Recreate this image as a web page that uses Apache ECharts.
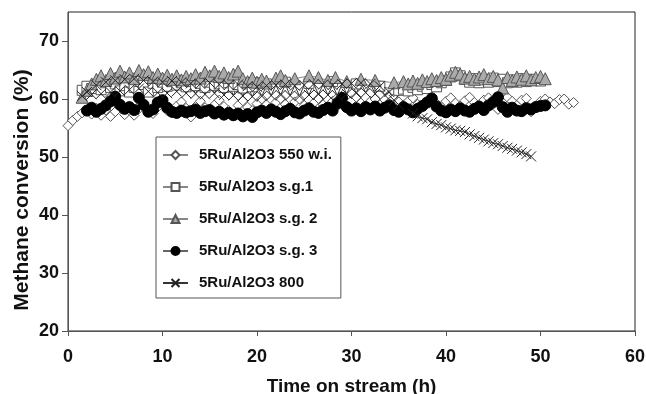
<!DOCTYPE html>
<html>
<head>
<meta charset="utf-8">
<script src="https://cdn.jsdelivr.net/npm/echarts@6/dist/echarts.min.js"></script>
<style>
html,body{margin:0;padding:0;background:#fff;}
#chart{width:646px;height:394px;}
</style>
</head>
<body>
<div id="chart"></div>
<script>
const seriesNames = ['5Ru/Al2O3 550 w.i.', '5Ru/Al2O3 s.g.1', '5Ru/Al2O3 s.g. 2', '5Ru/Al2O3 s.g. 3', '5Ru/Al2O3 800'];
const xTicks = [0, 10, 20, 30, 40, 50, 60];
const yTicks = [20, 30, 40, 50, 60, 70];

const wi550 = [[0,55.4],[0.5,56.3],[1,57.0],[1.5,57.6],[2,58.0],[2.5,57.4],[3,58.4],[3.5,57.2],[4,58.1],[4.5,57.0],[5,57.8],[5.5,58.6],[6,57.3],[6.5,58.0],[7,57.2],[7.5,58.3],[8,59.0],[8.5,58.1],[9,57.5],[9.5,58.6],[10,59.2],[10.5,58.0],[11,57.6],[11.5,58.8],[12,59.5],[12.5,58.4],[13,56.9],[13.5,58.7],[14,59.6],[14.5,58.5],[15,57.9],[15.5,59.0],[16,59.8],[16.5,58.7],[17,58.0],[17.5,57.1],[18,58.9],[18.5,59.7],[19,58.6],[19.5,58.0],[20,59.2],[20.5,60.0],[21,59.0],[21.5,58.3],[22,59.4],[22.5,60.1],[23,59.1],[23.5,58.4],[24,59.5],[24.5,60.0],[25,58.9],[25.5,58.2],[26,59.3],[26.5,60.1],[27,59.0],[27.5,58.5],[28,59.6],[28.5,60.2],[29,59.2],[29.5,58.6],[30,59.7],[30.5,60.3],[31,59.3],[31.5,58.7],[32,59.6],[32.5,60.0],[33,59.0],[33.5,58.5],[34,59.4],[34.5,60.1],[35,59.5],[35.5,58.8],[36,59.6],[36.5,60.2],[37,59.1],[37.5,58.6],[38,59.5],[38.5,60.0],[39,59.2],[39.5,58.7],[40,59.6],[40.5,60.2],[41,59.3],[41.5,58.8],[42,59.7],[42.5,60.3],[43,59.4],[43.5,58.9],[44,59.8],[44.5,60.2],[45,59.0],[45.5,58.2],[46,59.5],[46.5,60.3],[47,59.6],[47.5,58.9],[48,59.8],[48.5,60.1],[49,57.8],[49.5,58.8],[50,59.6],[50.5,60.0],[51,59.5],[51.5,59.2],[52,59.9],[52.5,60.0],[53,59.1],[53.5,59.4]];

const sg1 = [[1.5,61.5],[2,62.2],[2.5,61.8],[3,62.5],[3.5,61.6],[4,62.8],[4.5,62.0],[5,62.6],[5.5,61.4],[6,62.3],[6.5,61.2],[7,62.0],[7.5,61.3],[8,62.5],[8.5,61.2],[9,62.7],[9.5,62.0],[10,62.9],[10.5,62.2],[11,63.0],[11.5,62.4],[12,62.8],[12.5,62.1],[13,63.0],[13.5,62.3],[14,62.7],[14.5,62.0],[15,62.9],[15.5,62.3],[16,62.6],[16.5,62.0],[17,62.8],[17.5,62.2],[18,62.5],[18.5,61.9],[19,62.6],[19.5,62.1],[20,62.8],[21,62.6],[23,62.9],[25.5,62.7],[28,63.0],[30.5,62.6],[33,62.2],[35,61.5],[35.5,61.7],[36,61.4],[36.5,62.0],[37,61.6],[37.5,62.2],[38,61.8],[38.5,62.5],[39,62.1],[39.5,62.8],[40,63.2],[40.5,63.8],[41,64.5],[41.5,64.0],[42,63.4],[42.5,62.9],[43,63.5],[43.5,62.8],[44,63.3],[44.5,62.9],[45,63.6],[45.5,63.0],[46,63.4],[46.5,62.8],[47,63.3],[47.5,62.9],[48,63.5],[48.5,63.0],[49,63.4],[50,63.1]];

const sg2 = [[1.5,60.3],[2,61.5],[2.5,62.6],[3,63.4],[3.5,64.0],[4,63.2],[4.5,64.4],[5,63.6],[5.5,64.8],[6,63.8],[6.5,64.5],[7,63.5],[7.5,64.9],[8,64.2],[8.5,64.7],[9,63.7],[9.5,64.3],[10,63.6],[10.5,64.1],[11,63.4],[11.5,64.0],[12,63.3],[12.5,63.9],[13,63.5],[13.5,64.2],[14,63.6],[14.5,64.6],[15,64.0],[15.5,64.8],[16,63.9],[16.5,64.5],[17,63.7],[17.5,64.3],[18,64.8],[18.5,63.5],[19,63.0],[19.5,63.6],[20,62.9],[20.5,63.4],[21,63.1],[22,63.6],[22.5,64.0],[23,63.2],[24,63.5],[25.5,64.0],[26.5,63.7],[27.5,63.2],[28.3,63.7],[29.5,63.0],[31,63.4],[32.5,63.2],[34.5,62.8],[35.5,63.0],[36,62.6],[36.5,63.1],[37,62.7],[37.5,63.3],[38,63.0],[38.5,63.5],[39,63.2],[39.5,63.7],[40,63.4],[40.5,64.1],[41,64.6],[41.5,64.3],[42,63.6],[42.5,63.9],[43,63.4],[43.5,63.8],[44,64.2],[44.5,63.5],[45,63.9],[45.5,63.3],[46,61.9],[46.5,63.7],[47,63.2],[47.5,63.8],[48,63.4],[48.5,64.0],[49,63.3],[49.5,63.7],[50,63.9],[50.5,63.5]];

const sg3 = [[2,58.0],[2.5,58.5],[3,57.8],[3.5,58.3],[4,58.9],[4.5,59.6],[5,60.4],[5.5,59.0],[6,58.3],[6.5,58.6],[7,58.1],[7.5,60.2],[8,59.0],[8.5,57.8],[9,58.2],[9.5,59.4],[10,59.8],[10.5,58.5],[11,57.8],[11.5,57.6],[12,58.0],[12.5,57.7],[13,57.9],[13.5,58.2],[14,57.6],[14.5,57.9],[15,58.1],[15.5,57.5],[16,57.8],[16.5,57.3],[17,57.6],[17.5,57.2],[18,57.5],[18.5,57.0],[19,57.4],[19.5,56.9],[20,57.7],[20.5,58.0],[21,57.6],[21.5,58.2],[22,57.8],[22.5,57.4],[23,57.9],[23.5,58.3],[24,57.7],[24.5,57.5],[25,58.0],[25.5,58.4],[26,57.8],[26.5,57.6],[27,58.1],[27.5,58.5],[28,58.0],[28.5,59.2],[29,60.2],[29.5,58.6],[30,58.0],[30.5,58.4],[31,57.9],[31.5,58.6],[32,58.2],[32.5,58.7],[33,58.0],[33.5,58.5],[34,58.9],[34.5,58.1],[35,57.8],[35.5,58.6],[36,58.2],[36.5,57.7],[37,58.3],[37.5,58.8],[38,59.4],[38.5,60.1],[39,58.7],[39.5,58.0],[40,57.7],[40.5,58.2],[41,57.9],[41.5,58.4],[42,58.0],[42.5,57.8],[43,58.3],[43.5,58.7],[44,58.1],[44.5,58.9],[45,59.5],[45.5,60.3],[46,58.6],[46.5,57.8],[47,58.5],[47.5,58.0],[48,57.9],[48.5,58.4],[49,58.2],[49.5,58.6],[50,58.8],[50.5,58.9]];

const c800 = [[1.5,60.5],[2,61.2],[2.5,60.8],[3,62.4],[3.5,60.9],[4,62.9],[4.5,61.2],[5,63.2],[5.5,61.4],[6,63.4],[6.5,61.6],[7,63.5],[7.5,61.8],[8,63.2],[8.5,61.3],[9,63.0],[9.5,61.1],[10,62.9],[10.5,61.0],[11,63.1],[11.5,61.3],[12,62.9],[12.5,61.0],[13,62.7],[13.5,60.9],[14,62.6],[14.5,60.8],[15,62.8],[15.5,61.0],[16,62.5],[16.5,60.7],[17,62.4],[17.5,60.6],[18,62.5],[18.5,60.5],[19,62.2],[19.5,60.4],[20,62.1],[20.5,60.5],[21,62.3],[21.5,60.6],[22,62.4],[22.5,60.7],[23,62.5],[23.5,60.6],[24,62.3],[24.5,60.5],[25,62.4],[25.5,60.7],[26,62.6],[26.5,60.8],[27,62.5],[27.5,60.7],[28,62.4],[28.5,60.6],[29,62.6],[29.5,60.9],[30,62.7],[30.5,61.0],[31,62.8],[31.5,61.1],[32,62.6],[32.5,60.9],[33,62.2],[33.5,60.7],[34,61.2],[34.5,59.8],[35,59.0],[36.5,57.5],[37,57.0],[37.5,56.7],[38,56.5],[38.5,56.0],[39,55.7],[39.5,55.5],[40,55.1],[40.5,54.9],[41,54.6],[41.5,54.5],[42,54.3],[42.5,53.9],[43,53.6],[43.5,53.3],[44,53.0],[44.5,52.7],[45,52.4],[45.5,52.2],[46,51.9],[46.5,51.6],[47,51.4],[47.5,51.1],[48,50.8],[48.5,50.5],[49,50.1]];

const FONT = "'Liberation Sans', Arial, Helvetica, sans-serif";
const chart = echarts.init(document.getElementById('chart'), null, {renderer: 'canvas'});

function mk(name, data, symbol, size, fill, stroke, lineColor, bw) {
  return {
    name: name, type: 'line', data: data,
    symbol: symbol, symbolSize: size, showAllSymbol: true,
    lineStyle: {color: lineColor, width: 1},
    itemStyle: {color: fill, borderColor: stroke, borderWidth: bw},
    emphasis: {disabled: true},
    animation: false
  };
}

const option = {
  animation: false,
  backgroundColor: '#fff',
  grid: {left: 68, right: 11, top: 12, bottom: 63, show: true, containLabel: false, outerBoundsMode: 'none',
    borderColor: '#222', borderWidth: 1, backgroundColor: 'transparent'},
  xAxis: {
    type: 'value', min: xTicks[0], max: xTicks[xTicks.length - 1], interval: 10,
    name: 'Time on stream (h)', nameLocation: 'middle', nameGap: 46,
    nameTextStyle: {fontFamily: FONT, fontWeight: 'bold', fontSize: 19, color: '#111'},
    axisLine: {show: true, lineStyle: {color: '#555', width: 1}},
    axisTick: {show: true, inside: false, length: 5, lineStyle: {color: '#555'}},
    axisLabel: {fontFamily: FONT, fontWeight: 'bold', fontSize: 18, color: '#111', margin: 17},
    splitLine: {show: false}
  },
  yAxis: {
    type: 'value', min: yTicks[0], max: 75, interval: 10,
    axisLine: {show: true, lineStyle: {color: '#555', width: 1}},
    axisTick: {show: true, inside: false, length: 6, lineStyle: {color: '#555'}, customValues: yTicks},
    axisLabel: {fontFamily: FONT, fontWeight: 'bold', fontSize: 18, color: '#111', margin: 9, customValues: yTicks},
    splitLine: {show: false}
  },
  legend: {
    orient: 'vertical', left: 156, top: 137,
    padding: [10, 9, 7, 6], itemGap: 16, itemWidth: 25, itemHeight: 10,
    borderColor: '#555', borderWidth: 1, backgroundColor: '#fff',
    textStyle: {fontFamily: FONT, fontWeight: 'bold', fontSize: 15, lineHeight: 16, color: '#111', padding: [0, 0, 0, 6]},
    data: seriesNames
  },
  graphic: [{
    type: 'text', x: 22, y: 190, rotation: Math.PI / 2,
    style: {text: 'Methane conversion (%)', font: "bold 21px " + FONT, fill: '#111', textAlign: 'center', textVerticalAlign: 'middle'}
  }],
  series: [
    mk(seriesNames[0], wi550, 'diamond', 10, '#fff', '#555', '#888', 1),
    mk(seriesNames[1], sg1, 'rect', 10, '#fff', '#555', '#888', 1),
    mk(seriesNames[2], sg2, 'triangle', 12, '#aaa', '#555', '#888', 1),
    mk(seriesNames[3], sg3, 'circle', 11, '#000', '#000', '#666', 1),
    mk(seriesNames[4], c800, 'path://M0,0L10,10M10,0L0,10', 10, '#222', '#222', '#333', 1)
  ]
};
chart.setOption(option);
</script>
</body>
</html>
